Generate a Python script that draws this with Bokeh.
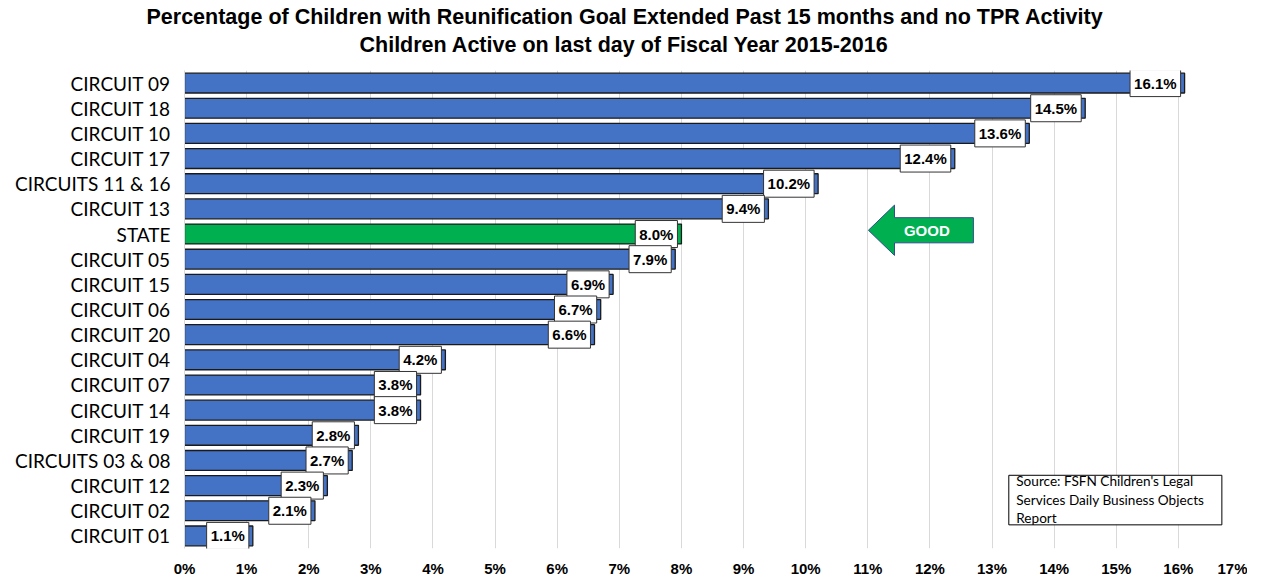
from bokeh.plotting import figure
from bokeh.models import (ColumnDataSource, LabelSet, FixedTicker, Label, Title,
                          BoxAnnotation, PrintfTickFormatter)
from bokeh.models.glyphs import Text
from bokeh.core.properties import value
from bokeh.embed import file_html
from bokeh.resources import INLINE

# ---- data (top to bottom) ----
categories = ["CIRCUIT 09", "CIRCUIT 18", "CIRCUIT 10", "CIRCUIT 17", "CIRCUITS 11 & 16",
              "CIRCUIT 13", "STATE", "CIRCUIT 05", "CIRCUIT 15", "CIRCUIT 06", "CIRCUIT 20",
              "CIRCUIT 04", "CIRCUIT 07", "CIRCUIT 14", "CIRCUIT 19", "CIRCUITS 03 & 08",
              "CIRCUIT 12", "CIRCUIT 02", "CIRCUIT 01"]
values = [16.1, 14.5, 13.6, 12.4, 10.2, 9.4, 8.0, 7.9, 6.9, 6.7, 6.6,
          4.2, 3.8, 3.8, 2.8, 2.7, 2.3, 2.1, 1.1]
x_ticks = list(range(0, 18))
highlight = "STATE"

title_1 = "Percentage of Children with Reunification Goal Extended Past 15 months and no TPR Activity"
title_2 = "Children Active on last day of Fiscal Year 2015-2016"
source_lines = ["Source: FSFN Children's Legal", "Services Daily Business Objects", "Report"]

BLUE = "#4472C4"
GREEN = "#00B050"

n = len(categories)
ypos = [n - 1 - i for i in range(n)]
colors = [GREEN if c == highlight else BLUE for c in categories]
labels = [f"{v:.1f}%" for v in values]

src = ColumnDataSource(dict(y=ypos, v=values, color=colors, label=labels, cat=categories))

p = figure(width=1247, height=579, x_range=(0, 17), y_range=(-0.5, n - 0.5),
           output_backend="svg", toolbar_location=None, title=None,
           min_border_left=184, min_border_right=7, min_border_top=70, min_border_bottom=28)
p.outline_line_color = None
p.background_fill_color = "white"

p.hbar(y="y", right="v", left=0, height=0.79, fill_color="color", line_color="#1a1a1a",
       line_width=1.3, source=src)

pad = 4
try:
    Text(padding=dict(left=4, right=4, top=5, bottom=5))
    pad = dict(left=4, right=4, top=5, bottom=5)
except Exception:
    pad = 4

text_props = Text.properties()
if "padding" in text_props and "background_fill_color" in text_props:
    p.text(x="v", y="y", text="label", source=src, x_offset=-4,
           text_align="right", text_baseline="middle",
           text_font=value("Liberation Sans"), text_font_style="bold", text_font_size="15px",
           text_color="black", background_fill_color="white",
           border_line_color="#333333", border_line_width=1, padding=pad)
else:
    src.data["label2"] = ["\u00a0" + t + "\u00a0" for t in labels]
    p.add_layout(LabelSet(x="v", y="y", text="label2", source=src, x_offset=-4,
                          text_align="right", text_baseline="middle",
                          text_font=value("Liberation Sans"), text_font_style="bold",
                          text_font_size="15px", text_color="black",
                          background_fill_color="white",
                          border_line_color="#333333", border_line_width=1))

# axes
p.yaxis.ticker = FixedTicker(ticks=ypos)
p.yaxis.major_label_overrides = {y: c for y, c in zip(ypos, categories)}
p.yaxis.major_tick_line_color = None
p.yaxis.minor_tick_line_color = None
p.yaxis.axis_line_color = "#d9d9d9"
p.yaxis.major_label_standoff = 8
p.yaxis.major_label_text_font = "Lato"
p.yaxis.major_label_text_font_size = "19px"
p.yaxis.major_label_text_color = "black"

p.xaxis.ticker = FixedTicker(ticks=x_ticks)
p.xaxis.formatter = PrintfTickFormatter(format="%d%%")
p.xaxis.axis_line_color = None
p.xaxis.major_tick_line_color = None
p.xaxis.minor_tick_line_color = None
p.xaxis.major_label_standoff = 5
p.xaxis.major_label_text_font = "Liberation Sans"
p.xaxis.major_label_text_font_style = "bold"
p.xaxis.major_label_text_font_size = "15px"
p.xaxis.major_label_text_color = "black"

p.ygrid.grid_line_color = None
p.xgrid.grid_line_color = "#d9d9d9"
p.xgrid.grid_line_width = 1

# GOOD arrow near STATE row
sy = ypos[categories.index(highlight)] + 0.15
p.patch(x=[11.01, 11.43, 11.43, 12.70, 12.70, 11.43, 11.43],
        y=[sy, sy + 1.0, sy + 0.5, sy + 0.5, sy - 0.5, sy - 0.5, sy - 1.0],
        fill_color=GREEN, line_color="#2f4f8f", line_width=1)
p.add_layout(Label(x=11.95, y=sy, text="GOOD", text_align="center", text_baseline="middle",
                   text_font="Liberation Sans", text_font_style="bold", text_font_size="15px",
                   text_color="white"))

# source box
p.add_layout(BoxAnnotation(left=13.27, right=16.70, top=2.41, bottom=0.44,
                           fill_color="white", fill_alpha=1, line_color="black",
                           line_width=1, line_alpha=1))
for i, t in enumerate(source_lines):
    p.add_layout(Label(x=13.39, y=2.18 - i * 0.735, text=t, text_align="left",
                       text_baseline="middle", text_font="Lato", text_font_size="13.6px",
                       text_color="black"))

# titles (first added sits nearest the plot); a blank white spacer lifts them
p.add_layout(Title(text="\u00a0", text_font_size="10px", text_color="white", standoff=0),
             "above")
p.add_layout(Title(text=title_2, align="left", offset=175, text_font="Liberation Sans",
                   text_font_size="21.5px", text_font_style="bold", text_color="black",
                   standoff=2), "above")
p.add_layout(Title(text=title_1, align="left", offset=-38, text_font="Liberation Sans",
                   text_font_size="21.5px", text_font_style="bold", text_color="black",
                   standoff=2), "above")

open("out.html", "w").write(file_html(p, INLINE))
